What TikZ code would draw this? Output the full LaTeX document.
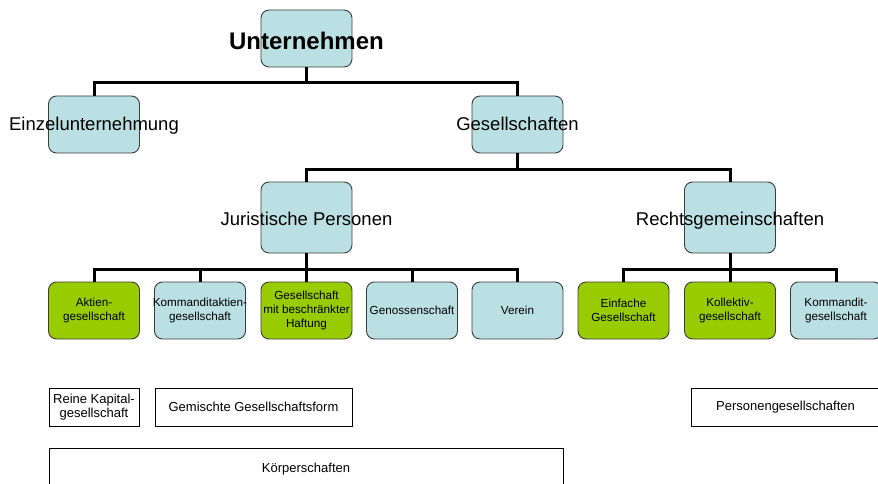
\documentclass[tikz,border=0pt]{standalone}
\usepackage{fontspec}
\setmainfont{Liberation Sans}
\definecolor{boxblue}{RGB}{187,224,227}
\definecolor{boxgreen}{RGB}{153,204,0}
\definecolor{boxline}{RGB}{60,60,60}
\tikzset{
  box/.style={draw=boxline, line width=0.9pt, rounded corners=8pt,
    minimum width=91pt, minimum height=57pt, inner sep=0pt},
  bluebox/.style={box, fill=boxblue},
  greenbox/.style={box, fill=boxgreen},
  tallbox/.style={minimum height=71pt},
  flatbox/.style={draw, line width=0.8pt, minimum height=38pt, inner sep=0pt,
    font=\fontsize{13}{14}\selectfont, align=center},
  conn/.style={line width=3pt},
  huge/.style={font=\fontsize{24}{28}\bfseries, text height=17pt, text depth=0pt, yshift=-2.3pt},
  big/.style={font=\fontsize{18.5}{22}\selectfont, text height=13pt, text depth=0pt},
  small/.style={font=\fontsize{11.7}{13.6}\selectfont, align=center}
}

\begin{document}
\begin{tikzpicture}[x=1pt,y=-1pt]
  \useasboundingbox (0,0) rectangle (878,484);

  \node at (306.5,38.5) [bluebox,label={[huge]center:Unternehmen}] (u) {};

  \node at (94,124.5) [bluebox,label={[big]center:Einzelunternehmung}] (ez) {};
  \node at (517.5,124.5) [bluebox,label={[big]center:Gesellschaften}] (g) {};

  \node at (306.5,217.5) [bluebox,tallbox,label={[big,yshift=-1pt]center:Juristische Personen}] (jp) {};
  \node at (730,217.5) [bluebox,tallbox,label={[big,yshift=-1pt]center:Rechtsgemeinschaften}] (rg) {};

  \node at (94,310.5) [greenbox,label={[small]center:{Aktien-\\gesellschaft}}] (ag) {};
  \node at (200,310.5) [bluebox,label={[small]center:{Kommanditaktien-\\gesellschaft}}] (kag) {};
  \node at (306.5,310.5) [greenbox,label={[small]center:{Gesellschaft\\mit beschränkter\\Haftung}}] (gmbh) {};
  \node at (412,310.5) [bluebox,label={[small]center:Genossenschaft}] (gen) {};
  \node at (517.5,310.5) [bluebox,label={[small]center:Verein}] (ver) {};
  \node at (623.5,310.5) [greenbox,label={[small]center:{Einfache\\Gesellschaft}}] (eg) {};
  \node at (730,310.5) [greenbox,label={[small]center:{Kollektiv-\\gesellschaft}}] (kg) {};
  \node at (836,310.5) [bluebox,label={[small]center:{Kommandit-\\gesellschaft}}] (kmg) {};

  \node at (94,407) [flatbox,minimum width=90pt] (rk) {Reine Kapital-\\gesellschaft};
  \node at (253.5,407) [flatbox,minimum width=197pt] (gg) {Gemischte Gesellschaftsform};
  \node at (785.5,407) [flatbox,minimum width=189pt] (pg) {Personengesellschaften};
  \node at (306,469) [flatbox,minimum width=514pt,minimum height=42pt] (ks) {Körperschaften};

  % bus lines
  \coordinate (b1) at (306.5,83);
  \coordinate (b2) at (517.5,169);
  \coordinate (b3) at (306.5,269);
  \coordinate (b4) at (730,269);

  \draw[conn] (u) -- (b1);
  \draw[conn] (b1) -| (ez);
  \draw[conn] (b1) -| (g);

  \draw[conn] (g) -- (b2);
  \draw[conn] (b2) -| (jp);
  \draw[conn] (b2) -| (rg);

  \draw[conn] (jp) -- (gmbh);
  \draw[conn] (b3) -| (ag);
  \draw[conn] (b3) -| (kag);
  \draw[conn] (b3) -| (gen);
  \draw[conn] (b3) -| (ver);

  \draw[conn] (rg) -- (kg);
  \draw[conn] (b4) -| (eg);
  \draw[conn] (b4) -| (kmg);
\end{tikzpicture}
\end{document}
